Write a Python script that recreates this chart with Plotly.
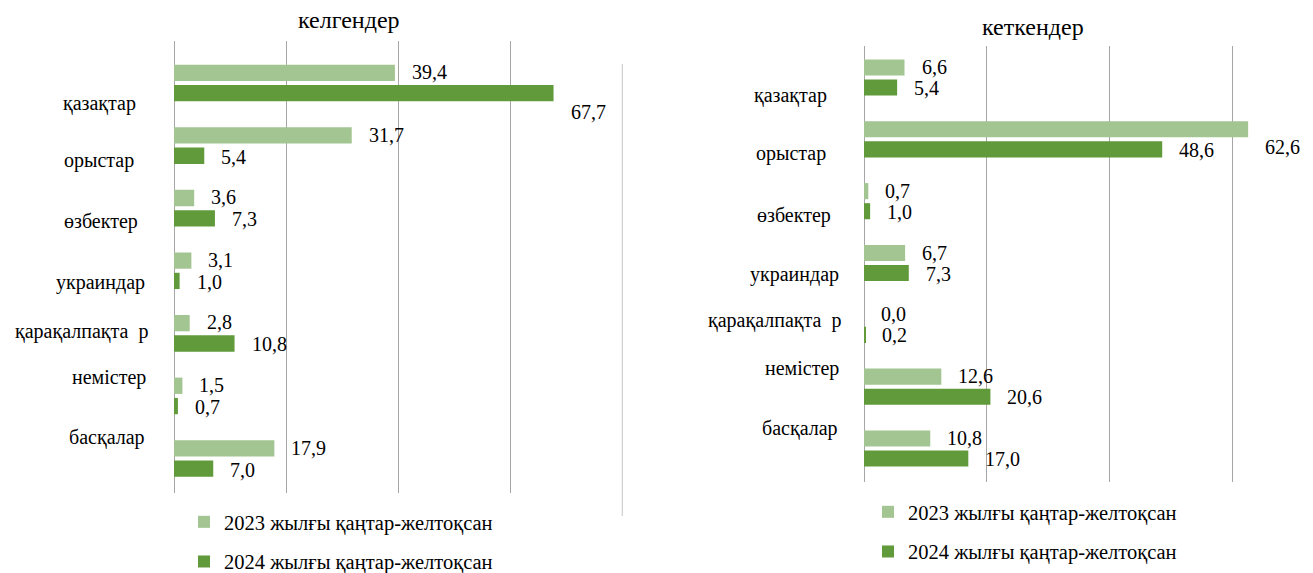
import plotly.graph_objects as go

# ---------------- data ----------------
categories = ["қазақтар", "орыстар", "өзбектер", "украиндар", "қарақалпақта  р", "немістер", "басқалар"]
series_names = ["2023 жылғы қаңтар-желтоқсан", "2024 жылғы қаңтар-желтоқсан"]
arrived_2023 = [39.4, 31.7, 3.6, 3.1, 2.8, 1.5, 17.9]
arrived_2024 = [67.7, 5.4, 7.3, 1.0, 10.8, 0.7, 7.0]
departed_2023 = [6.6, 62.6, 0.7, 6.7, 0.0, 12.6, 10.8]
departed_2024 = [5.4, 48.6, 1.0, 7.3, 0.2, 20.6, 17.0]
title_left = "келгендер"
title_right = "кеткендер"

# ---------------- style ----------------
W, H = 1313, 573
FONT = "Liberation Serif, Times New Roman, serif"
LIGHT = "#A2C591"
DARK = "#609A3B"
GRID = "#A6A6A6"

# category label placement (px): right edge and vertical shift (down = positive)
left_lab_right = [138, 136, 140, 147, 150, 148, 147]
left_lab_dy = [20, 15, 13, 12, -2, -18, -21]
right_lab_right = [829, 828, 833, 841, 843, 841, 840]
right_lab_dy = [18, 14, 14, 11, -4, -18, -20]
# extra downward shift of value labels that would not fit beside the bar
left_2024_extra = [18, 0, 0, 0, 0, 0, 0]
right_2023_extra = [0, 18, 0, 0, 0, 0, 0]
zeros = [0] * len(categories)


def fmt(v):
    return f"{v:.1f}".replace(".", ",")


def disp(c):
    return c.replace("  ", "\u00a0\u00a0")


fig = go.Figure()

panels = [
    dict(xa="x", ya="y", s23=arrived_2023, s24=arrived_2024, legend="legend",
         ex23=zeros, ex24=left_2024_extra, half=11, lab_r=left_lab_right, lab_dy=left_lab_dy),
    dict(xa="x2", ya="y2", s23=departed_2023, s24=departed_2024, legend="legend2",
         ex23=right_2023_extra, ex24=zeros, half=10.5, lab_r=right_lab_right, lab_dy=right_lab_dy),
]

annotations = []
for p in panels:
    for name, vals, col, grp in [(series_names[0], p["s23"], LIGHT, "a"), (series_names[1], p["s24"], DARK, "b")]:
        fig.add_trace(go.Bar(
            x=vals, y=categories, orientation="h", name=name,
            marker=dict(color=col, line=dict(width=0)),
            xaxis=p["xa"], yaxis=p["ya"], legend=p["legend"], legendgroup=grp + p["legend"],
            showlegend=True, hoverinfo="x+y",
        ))
    # value labels
    for vals, sign, extra in [(p["s23"], 1, p["ex23"]), (p["s24"], -1, p["ex24"])]:
        for c, v, e in zip(categories, vals, extra):
            annotations.append(dict(
                x=v, y=c, xref=p["xa"], yref=p["ya"], text=fmt(v), showarrow=False,
                xanchor="left", yanchor="middle", xshift=15, yshift=sign * p["half"] - e,
                font=dict(family=FONT, size=20, color="black"),
            ))
    # category labels
    for c, r, dy in zip(categories, p["lab_r"], p["lab_dy"]):
        annotations.append(dict(
            x=r / W, y=c, xref="paper", yref=p["ya"], text=disp(c), showarrow=False,
            xanchor="right", yanchor="middle", yshift=-dy,
            font=dict(family=FONT, size=20, color="black"),
        ))

# titles
annotations.append(dict(x=349 / W, y=1 - 20 / H, xref="paper", yref="paper", text=title_left,
                        showarrow=False, xanchor="center", yanchor="middle",
                        font=dict(family=FONT, size=24, color="black")))
annotations.append(dict(x=1033 / W, y=1 - 27 / H, xref="paper", yref="paper", text=title_right,
                        showarrow=False, xanchor="center", yanchor="middle",
                        font=dict(family=FONT, size=24, color="black")))

axis_common = dict(showgrid=True, gridcolor=GRID, gridwidth=1.3, zeroline=True, zerolinecolor=GRID,
                   zerolinewidth=1.3, showticklabels=False, ticks="", showline=False, fixedrange=True)
ycommon = dict(autorange="reversed", showgrid=False, zeroline=False, showticklabels=False,
               ticks="", showline=False, fixedrange=True)

legend_common = dict(xref="container", yref="container", xanchor="left", yanchor="middle",
                     orientation="v", traceorder="grouped", tracegroupgap=10,
                     bgcolor="rgba(0,0,0,0)", font=dict(family=FONT, size=20.5, color="black"))

fig.update_layout(
    width=W, height=H,
    margin=dict(l=0, r=0, t=0, b=0, autoexpand=False),
    paper_bgcolor="white", plot_bgcolor="white",
    barmode="group", bargap=0.35, bargroupgap=0.2,
    font=dict(family=FONT, size=20, color="black"),
    xaxis=dict(domain=[174 / W, 622.5 / W], range=[0, 80], tickvals=[0, 20, 40, 60], **axis_common),
    yaxis=dict(domain=[1 - 493 / H, 1 - 41 / H], anchor="x", **ycommon),
    xaxis2=dict(domain=[864 / W, 1269 / W], range=[0, 66], tickvals=[0, 20, 40, 60], anchor="y2", **axis_common),
    yaxis2=dict(domain=[1 - 482 / H, 1 - 46 / H], anchor="x2", **ycommon),
    legend=dict(x=184 / W, y=1 - 542 / H, **legend_common),
    legend2=dict(x=868 / W, y=1 - 532 / H, **legend_common),
    annotations=annotations,
    shapes=[dict(type="line", xref="x", yref="paper", x0=80, x1=80, y0=1 - 516 / H, y1=1 - 64 / H,
                 line=dict(color=GRID, width=1.3), layer="below")],
    showlegend=True,
)

fig.write_html("out.html", config={"displayModeBar": False},
               post_script="document.body.style.margin='0';document.body.style.overflow='hidden';")
